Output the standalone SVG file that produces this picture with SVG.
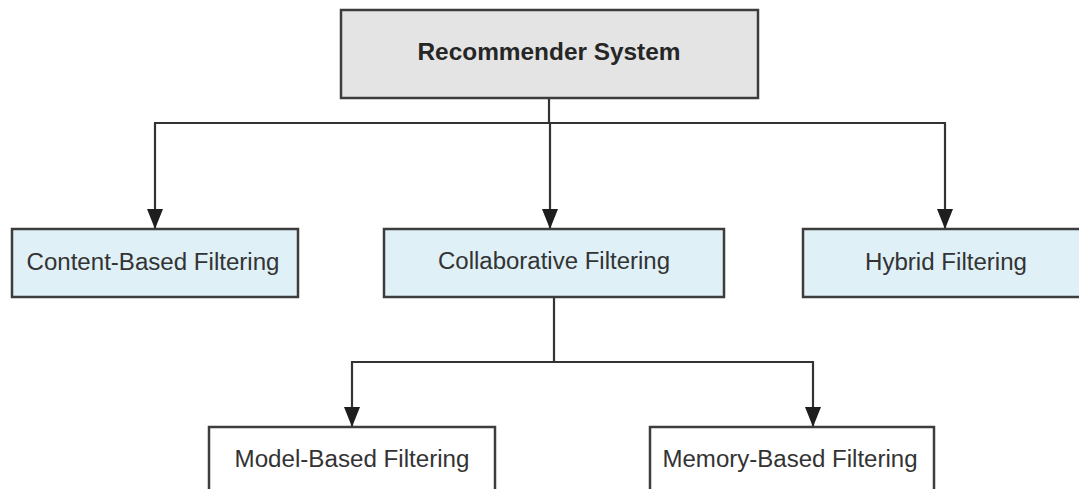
<svg xmlns="http://www.w3.org/2000/svg" width="1079" height="489" viewBox="0 0 1079 489">
  <style>
    .box { stroke: #3d3d3d; stroke-width: 2.5; }
    .root { fill: #e4e4e4; }
    .cat { fill: #dff0f7; }
    .leaf { fill: #ffffff; }
    .label { font-family: "Liberation Sans", Arial, sans-serif; font-size: 23px; fill: #333333; text-anchor: middle; }
    .bold { font-weight: bold; fill: #262626; }
    .wire { fill: none; stroke: #333333; stroke-width: 2.2; }
  </style>
  <defs>
    <marker id="arrow" viewBox="0 0 20 16" refX="20" refY="8" markerWidth="20" markerHeight="16" markerUnits="userSpaceOnUse" orient="auto">
      <path d="M0,0 L20,8 L0,16 z" fill="#1e1e1e"/>
    </marker>
  </defs>
  <rect width="1079" height="489" fill="#ffffff"/>

  <g id="connectors">
    <path class="wire" d="M549,98 V123"/>
    <path class="wire" d="M154,123 H946"/>
    <path class="wire" d="M155,123 V229" marker-end="url(#arrow)"/>
    <path class="wire" d="M550,123 V229" marker-end="url(#arrow)"/>
    <path class="wire" d="M945,123 V229" marker-end="url(#arrow)"/>
    <path class="wire" d="M554,297 V362"/>
    <path class="wire" d="M351,362 H814"/>
    <path class="wire" d="M352,362 V427" marker-end="url(#arrow)"/>
    <path class="wire" d="M813,362 V427" marker-end="url(#arrow)"/>
  </g>

  <g id="recommender-system">
    <rect class="box root" x="341" y="10" width="417" height="88"/>
    <text class="label bold" x="549" y="60" textLength="263" lengthAdjust="spacingAndGlyphs">Recommender System</text>
  </g>

  <g id="content-based">
    <rect class="box cat" x="12" y="229" width="286" height="68"/>
    <text class="label" x="153" y="270" textLength="253" lengthAdjust="spacingAndGlyphs">Content-Based Filtering</text>
  </g>

  <g id="collaborative">
    <rect class="box cat" x="384" y="229" width="340" height="68"/>
    <text class="label" x="554" y="269" textLength="232" lengthAdjust="spacingAndGlyphs">Collaborative Filtering</text>
  </g>

  <g id="hybrid">
    <rect class="box cat" x="803" y="229" width="290" height="68"/>
    <text class="label" x="946" y="270" textLength="162" lengthAdjust="spacingAndGlyphs">Hybrid Filtering</text>
  </g>

  <g id="model-based">
    <rect class="box leaf" x="209" y="427" width="286" height="80"/>
    <text class="label" x="352" y="467" textLength="235" lengthAdjust="spacingAndGlyphs">Model-Based Filtering</text>
  </g>

  <g id="memory-based">
    <rect class="box leaf" x="650" y="427" width="284" height="80"/>
    <text class="label" x="790" y="467" textLength="255" lengthAdjust="spacingAndGlyphs">Memory-Based Filtering</text>
  </g>
</svg>
